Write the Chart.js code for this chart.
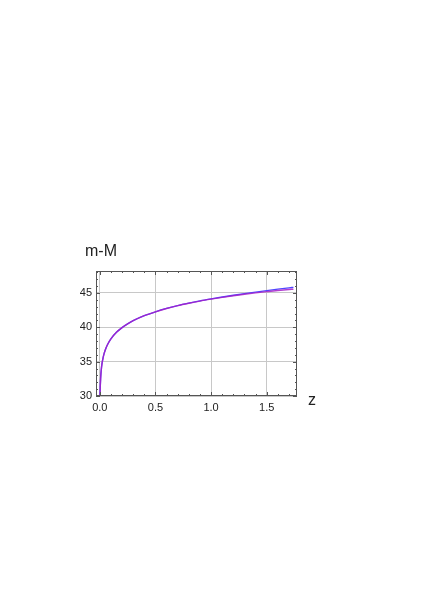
<!DOCTYPE html>
<html>
<head>
<meta charset="utf-8">
<script src="https://cdn.jsdelivr.net/npm/chart.js@4/dist/chart.umd.min.js"></script>
<style>
  html, body { margin: 0; padding: 0; background: #ffffff; }
  #wrap { position: relative; width: 429px; height: 607px; }
  canvas { display: block; }
</style>
</head>
<body>
<div id="wrap"><canvas id="c" width="429" height="607"></canvas></div>
<script>
// ---- data ----
const zValues = [0.0023, 0.003, 0.004, 0.005, 0.0075, 0.01, 0.015, 0.02, 0.03, 0.04, 0.05, 0.07,
                 0.1, 0.15, 0.2, 0.25, 0.3, 0.4, 0.5, 0.6, 0.7, 0.8, 0.9, 1.0, 1.1, 1.2, 1.3,
                 1.4, 1.5, 1.6, 1.7, 1.74];
const modulusPurple = [29.97, 30.55, 31.18, 31.66, 32.55, 33.18, 34.07, 34.70, 35.59, 36.24, 36.74, 37.50,
                       38.32, 39.27, 39.96, 40.50, 40.96, 41.69, 42.26, 42.74, 43.15, 43.50, 43.82, 44.10, 44.36, 44.59, 44.81,
                       45.01, 45.19, 45.36, 45.50, 45.55];
const modulusBlue = [29.97, 30.55, 31.18, 31.66, 32.55, 33.18, 34.07, 34.70, 35.59, 36.24, 36.74, 37.50,
                     38.32, 39.27, 39.96, 40.50, 40.96, 41.69, 42.26, 42.75, 43.16, 43.52, 43.85, 44.14, 44.41, 44.67, 44.90,
                     45.13, 45.35, 45.56, 45.75, 45.82];
const xTickValues = [0.0, 0.5, 1.0, 1.5];
const yTickValues = [30, 35, 40, 45];
const yAxisTitle = 'm-M';
const xAxisTitle = 'z';

const toPoints = (xs, ys) => xs.map((x, i) => ({ x: x, y: ys[i] }));

const FRAME = '#555555';
const TEXT = '#222222';
const FONT = '"Liberation Sans", Arial, Helvetica, sans-serif';

// frame with inward ticks on all sides + axis titles
const framePlugin = {
  id: 'frame',
  afterDatasetsDraw(chart) {
    const { ctx, chartArea: a, scales } = chart;
    const xs = scales.x, ys = scales.y;
    ctx.save();
    ctx.strokeStyle = FRAME;
    ctx.lineWidth = 1;
    ctx.strokeRect(Math.round(a.left) + 0.5, Math.round(a.top) + 0.5,
                   Math.round(a.right - a.left) - 1, Math.round(a.bottom - a.top) - 1);
    ctx.beginPath();
    for (let k = 0; k <= 17; k++) {
      const v = k / 10;
      const px = Math.round(xs.getPixelForValue(v)) + 0.5;
      const len = (k % 5 === 0) ? 4 : 2;
      ctx.moveTo(px, a.bottom); ctx.lineTo(px, a.bottom - len);
      ctx.moveTo(px, a.top); ctx.lineTo(px, a.top + len);
    }
    for (let v = 30; v <= 48; v++) {
      const py = Math.round(ys.getPixelForValue(v)) + 0.5;
      const len = (v % 5 === 0) ? 4 : 2;
      ctx.moveTo(a.left, py); ctx.lineTo(a.left + len, py);
      ctx.moveTo(a.right, py); ctx.lineTo(a.right - len, py);
    }
    ctx.stroke();
    ctx.fillStyle = TEXT;
    ctx.font = '16px ' + FONT;
    ctx.textBaseline = 'alphabetic';
    ctx.textAlign = 'left';
    ctx.fillText(yAxisTitle, a.left - 11, a.top - 15);
    ctx.fillText(xAxisTitle, a.right + 11, a.bottom + 9);
    ctx.restore();
  }
};

const chart = new Chart(document.getElementById('c'), {
  type: 'line',
  data: {
    datasets: [
      {
        label: 'purple',
        data: toPoints(zValues, modulusPurple),
        borderColor: 'rgba(165,30,200,0.85)',
        borderWidth: 1.4,
        pointRadius: 0,
        fill: false,
        cubicInterpolationMode: 'monotone',
        order: 0
      },
      {
        label: 'blue',
        data: toPoints(zValues, modulusBlue),
        borderColor: 'rgb(80,70,255)',
        borderWidth: 1.4,
        pointRadius: 0,
        fill: false,
        cubicInterpolationMode: 'monotone',
        order: 1
      }
    ]
  },
  options: {
    responsive: false,
    animation: false,
    events: [],
    layout: { padding: { left: 56, right: 132, top: 271, bottom: 191 } },
    plugins: { legend: { display: false }, tooltip: { enabled: false }, title: { display: false } },
    scales: {
      x: {
        type: 'linear',
        min: -0.034,
        max: 1.772,
        afterFit: s => { s.height = 20; },
        afterBuildTicks: s => { s.ticks = xTickValues.map(v => ({ value: v })); },
        grid: { color: '#c8c8c8', lineWidth: 1, drawTicks: false },
        border: { display: false },
        ticks: {
          padding: 5,
          color: TEXT,
          font: { family: FONT, size: 11 },
          maxRotation: 0,
          autoSkip: false,
          callback: v => Number(v).toFixed(1)
        }
      },
      y: {
        type: 'linear',
        min: 30,
        max: 48.2,
        afterFit: s => { s.width = 40; },
        afterBuildTicks: s => { s.ticks = yTickValues.map(v => ({ value: v })); },
        grid: { color: '#c8c8c8', lineWidth: 1, drawTicks: false },
        border: { display: false },
        ticks: {
          padding: 4,
          color: TEXT,
          font: { family: FONT, size: 11 },
          autoSkip: false,
          callback: v => String(v)
        }
      }
    }
  },
  plugins: [framePlugin]
});
</script>
</body>
</html>
